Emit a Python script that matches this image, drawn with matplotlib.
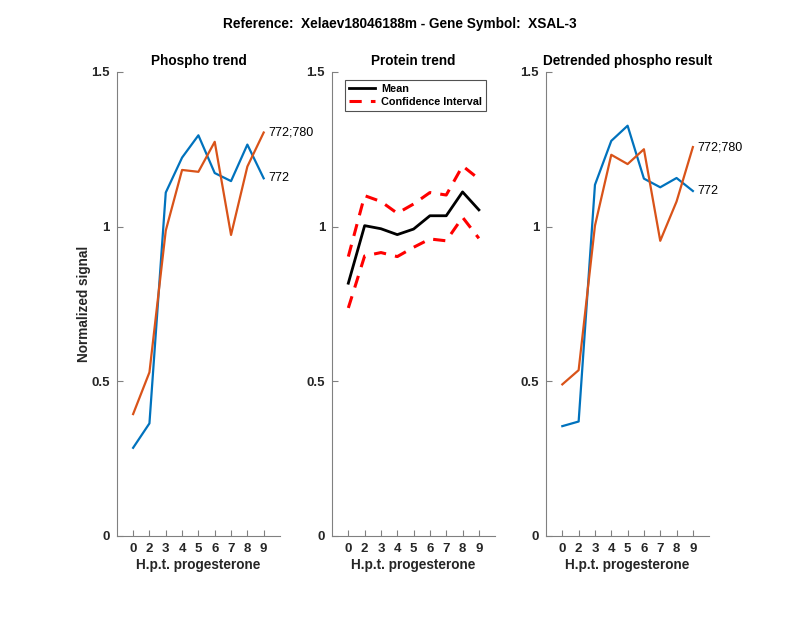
import matplotlib
matplotlib.use("Agg")
import matplotlib.pyplot as plt

plt.rcParams['font.family'] = ['Liberation Sans', 'DejaVu Sans']

hours = ['0', '2', '3', '4', '5', '6', '7', '8', '9']
pos = list(range(1, len(hours) + 1))

phos_772 = [0.285, 0.364, 1.110, 1.223, 1.295, 1.173, 1.147, 1.265, 1.156]
phos_772_780 = [0.394, 0.529, 0.987, 1.183, 1.177, 1.274, 0.973, 1.194, 1.304]

prot_mean = [0.817, 1.003, 0.993, 0.974, 0.992, 1.035, 1.035, 1.112, 1.054]
prot_upper = [0.903, 1.100, 1.081, 1.043, 1.073, 1.110, 1.102, 1.196, 1.154]
prot_lower = [0.737, 0.905, 0.916, 0.903, 0.933, 0.960, 0.954, 1.030, 0.962]

det_772 = [0.355, 0.370, 1.135, 1.277, 1.326, 1.155, 1.127, 1.157, 1.115]
det_772_780 = [0.490, 0.536, 1.003, 1.232, 1.202, 1.250, 0.954, 1.081, 1.257]

yticks = [0, 0.5, 1, 1.5]
ytick_labels = ['0', '0.5', '1', '1.5']

BLUE = '#0072BD'
ORANGE = '#D95319'
AXC = '#262626'

fig = plt.figure(figsize=(8, 6.18), dpi=100)
lefts = [0.146, 0.415, 0.6825]
axes = [fig.add_axes([l, 0.1327, 0.204, 0.751]) for l in lefts]

def style(ax, title):
    ax.set_xlim(0, 10)
    ax.set_ylim(0, 1.5)
    ax.set_xticks(pos)
    ax.set_xticklabels(hours)
    ax.set_yticks(yticks)
    ax.set_yticklabels(ytick_labels)
    for s in ['top', 'right']:
        ax.spines[s].set_visible(False)
    for s in ['left', 'bottom']:
        ax.spines[s].set_color('#808080')
        ax.spines[s].set_linewidth(0.8)
    ax.tick_params(direction='in', length=4, width=0.8, color='#808080',
                   labelcolor=AXC, labelsize=9.5, pad=5)
    for lab in ax.get_xticklabels() + ax.get_yticklabels():
        lab.set_fontweight('bold')
    ax.set_xlabel('H.p.t. progesterone', fontsize=9.8, fontweight='bold', color=AXC, labelpad=2)
    ax.set_title(title, fontsize=9.8, fontweight='bold', color='black', pad=5)

ax = axes[0]
ax.plot(pos, phos_772, color=BLUE, lw=1.6)
ax.plot(pos, phos_772_780, color=ORANGE, lw=1.6)
ax.text(pos[-1] + 0.3, phos_772_780[-1], '772;780', fontsize=9, va='center', ha='left')
ax.text(pos[-1] + 0.3, phos_772[-1], '772', fontsize=9, va='center', ha='left')
style(ax, 'Phospho trend')
ax.set_ylabel('Normalized signal', fontsize=9.8, fontweight='bold', color=AXC, labelpad=0)

ax = axes[1]
ax.plot(pos, prot_mean, color='black', lw=2, label='Mean')
ax.plot(pos, prot_upper, color='red', lw=2.2, ls=(0, (4, 3)), label='Confidence Interval')
ax.plot(pos, prot_lower, color='red', lw=2.2, ls=(0, (4, 3)))
style(ax, 'Protein trend')
leg = ax.legend(loc='upper left', bbox_to_anchor=(0.08, 0.983), fontsize=7.8, frameon=True,
                fancybox=False, edgecolor='#262626', handlelength=2.4, borderpad=0.35,
                labelspacing=0.3, handletextpad=0.6, borderaxespad=0)
leg.get_frame().set_linewidth(0.8)
for t in leg.get_texts():
    t.set_fontweight('bold')

ax = axes[2]
ax.plot(pos, det_772, color=BLUE, lw=1.6)
ax.plot(pos, det_772_780, color=ORANGE, lw=1.6)
ax.text(pos[-1] + 0.3, det_772_780[-1], '772;780', fontsize=9, va='center', ha='left')
ax.text(pos[-1] + 0.3, det_772[-1], '772', fontsize=9, va='center', ha='left')
style(ax, 'Detrended phospho result')

fig.text(0.5, 0.961, 'Reference:  Xelaev18046188m - Gene Symbol:  XSAL-3',
         ha='center', va='center', fontsize=9.8, fontweight='bold')

fig.savefig('out.png', dpi=100, facecolor='white')
